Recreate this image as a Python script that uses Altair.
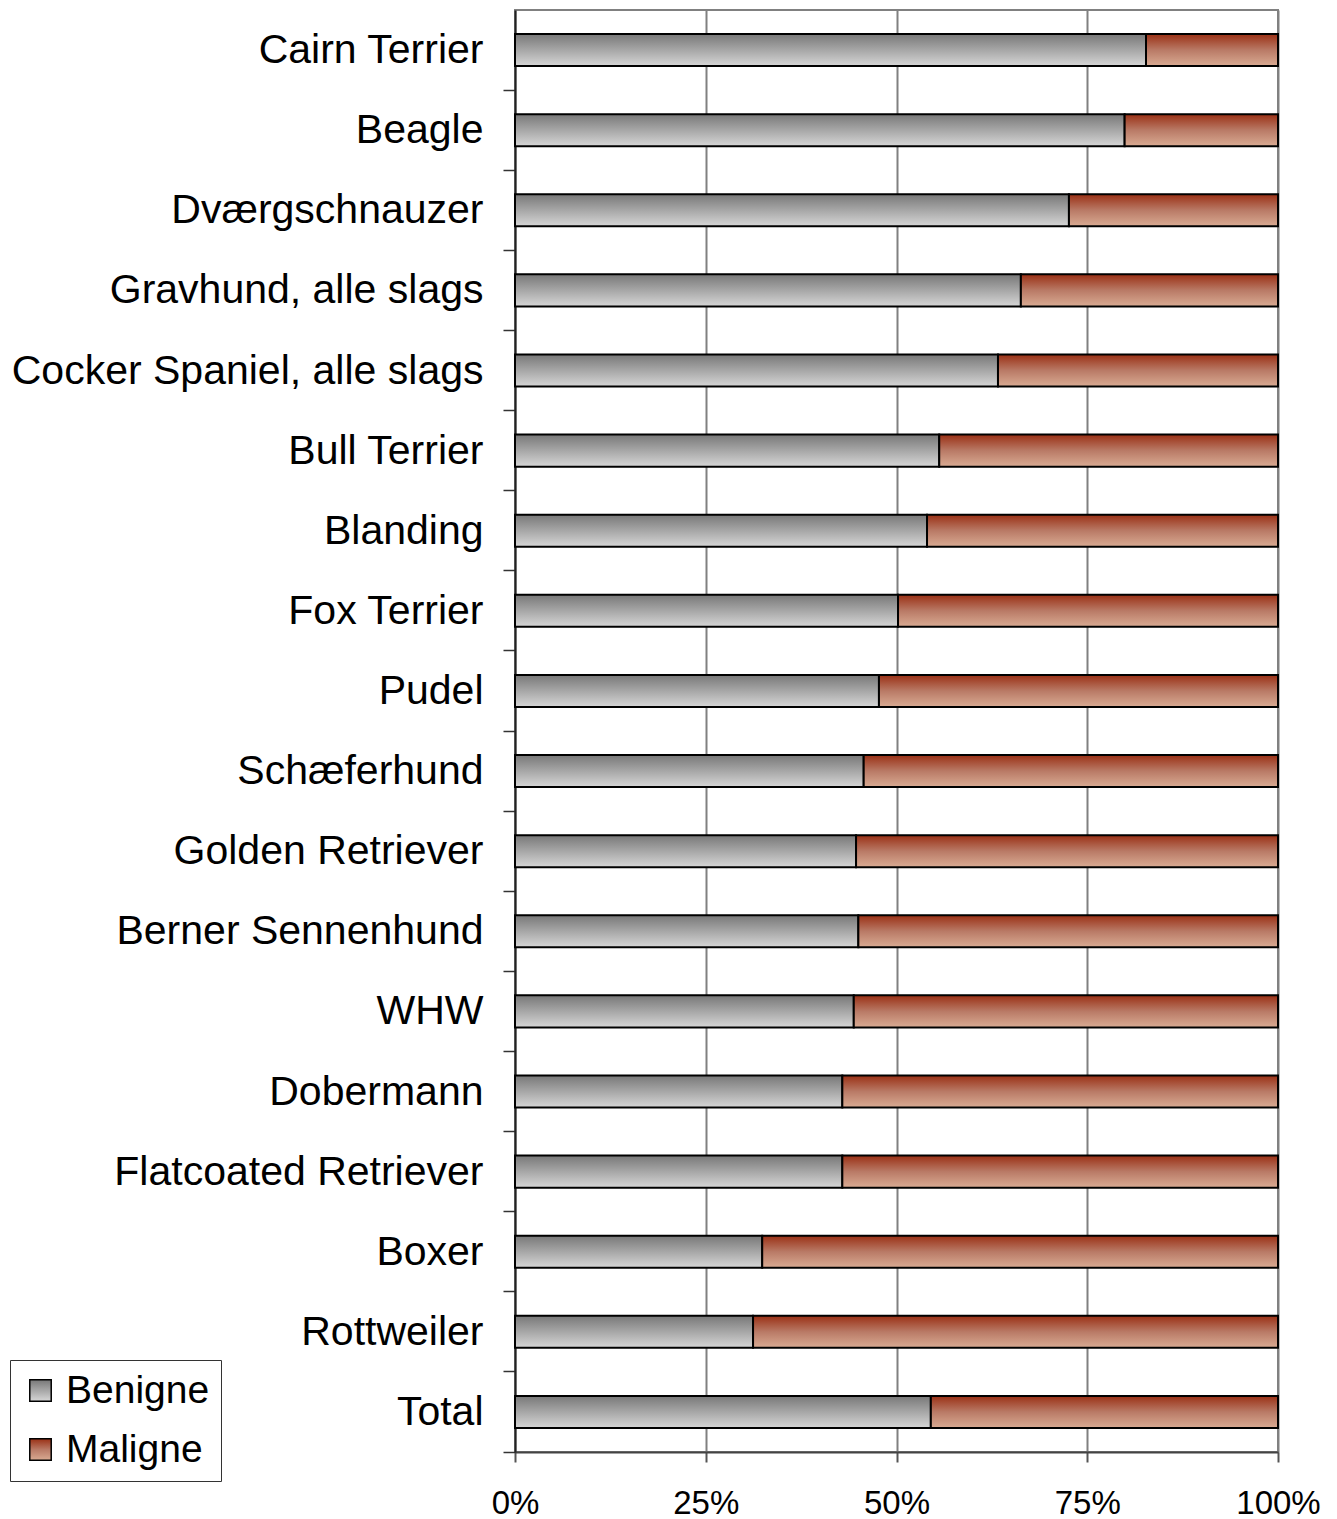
import altair as alt
import pandas as pd

breeds = ["Cairn Terrier", "Beagle", "Dværgschnauzer", "Gravhund, alle slags",
          "Cocker Spaniel, alle slags", "Bull Terrier", "Blanding", "Fox Terrier",
          "Pudel", "Schæferhund", "Golden Retriever", "Berner Sennenhund", "WHW",
          "Dobermann", "Flatcoated Retriever", "Boxer", "Rottweiler", "Total"]
benigne = [82.7, 79.9, 72.6, 66.3, 63.3, 55.6, 54.0, 50.2, 47.7, 45.7,
           44.7, 45.0, 44.4, 42.9, 42.9, 32.4, 31.2, 54.5]
series = ["Benigne", "Maligne"]
tick_values = [0, 0.25, 0.5, 0.75, 1.0]

rows = []
for b, v in zip(breeds, benigne):
    rows.append({"breed": b, "type": "Benigne", "x0": 0.0, "x1": v / 100})
    rows.append({"breed": b, "type": "Maligne", "x0": v / 100, "x1": 1.0})
df = pd.DataFrame(rows)

grad_grey = ("{gradient: 'linear', x1: 0, y1: 0, x2: 0, y2: 1, stops: ["
             "{offset: 0, color: '#787878'}, {offset: 1, color: '#d6d6d6'}]}")
grad_red = ("{gradient: 'linear', x1: 0, y1: 0, x2: 0, y2: 1, stops: ["
            "{offset: 0, color: '#9a3015'}, {offset: 0.5, color: '#b97a66'}, {offset: 1, color: '#d9ab93'}]}")

FONT = "Liberation Sans"

bars = alt.Chart(df).mark_bar(stroke="black", strokeWidth=2).encode(
    y=alt.Y("breed:N", sort=breeds, title=None,
            scale=alt.Scale(paddingInner=0.6, paddingOuter=0.3),
            axis=alt.Axis(labelFontSize=41, labelFont=FONT, labelColor="black",
                          labelLimit=0, labelPadding=20, labelOffset=1,
                          bandPosition=1.75, tickExtra=False, tickSize=12,
                          tickColor="#333333", tickWidth=1.5,
                          domainColor="#222222", domainWidth=2, grid=False)),
    x=alt.X("x0:Q", title=None,
            scale=alt.Scale(domain=[0, 1], nice=False),
            axis=alt.Axis(values=tick_values, format="%", labelFontSize=33,
                          labelFont=FONT, labelColor="black", labelPadding=25,
                          labelFlush=False,
                          tickSize=10, tickColor="#555555", tickWidth=2,
                          domainColor="#444444", domainWidth=2,
                          grid=True, gridColor="#808080", gridWidth=2)),
    x2="x1:Q",
    color=alt.Color("type:N", title=None,
                    scale=alt.Scale(domain=series,
                                    range=[alt.ExprRef(grad_grey), alt.ExprRef(grad_red)]),
                    legend=alt.Legend(orient="none", legendX=-505, legendY=1350,
                                      labelFontSize=39, labelFont=FONT, labelColor="black",
                                      symbolType="square", symbolSize=460,
                                      symbolStrokeColor="black", symbolStrokeWidth=1.5,
                                      strokeColor="#333333", padding=11,
                                      rowPadding=19, labelOffset=6)),
)

chart = bars.properties(
    width=763, height=1442,
    autosize=alt.AutoSizeParams(type="none"),
    padding={"left": 507, "top": 2, "right": 50, "bottom": 70},
).configure_view(stroke="#808080", strokeWidth=2)

chart.save("out.html", embed_options={"renderer": "svg", "actions": False})
